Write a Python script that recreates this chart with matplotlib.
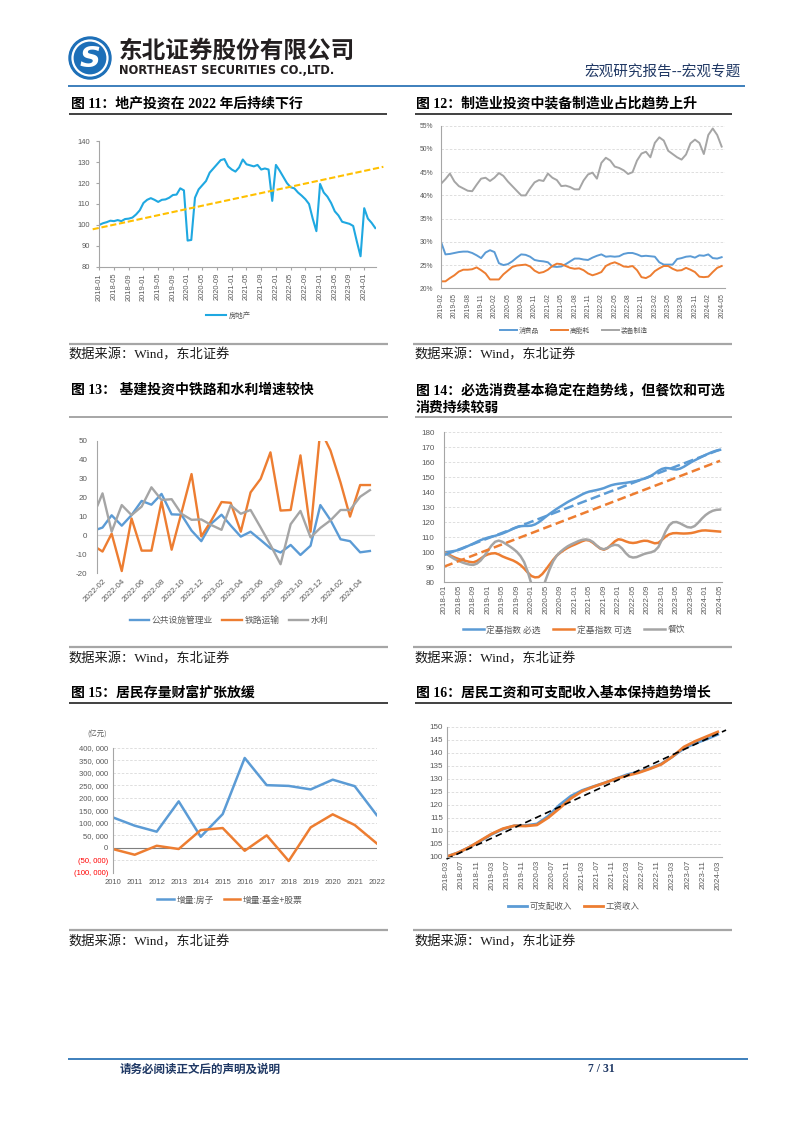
import matplotlib
matplotlib.use('Agg')
import matplotlib.pyplot as plt
import numpy as np
import pandas as pd
from matplotlib.patches import Circle
from matplotlib.ticker import FuncFormatter

W, H = 802, 1133
CJK = 'Noto Sans CJK SC'
plt.rcParams['font.family'] = ['Liberation Sans', CJK, 'DejaVu Sans']
plt.rcParams['axes.unicode_minus'] = False

BLUE = '#5b9bd5'; ORANGE = '#ed7d31'; GRAY = '#a5a5a5'
TICK = '#595959'; SPINE = '#a6a6a6'; GRID = '#d9d9d9'

# ---------------- data ----------------
# Fig 11: real estate investment index, monthly 2018-01 .. 2024-04
re_months = pd.period_range('2018-01', '2024-04', freq='M').strftime('%Y-%m').tolist()
re_index = [100, 100.8, 101.3, 102, 101.8, 102.3, 101.8, 102.8, 103, 103.5, 105, 107,
            110.5, 112, 112.8, 112, 111, 112, 112.2, 113, 114.3, 114.5, 117.5, 116.5,
            92.5, 92.8, 113, 117, 119, 121, 125, 127, 129, 131, 131.5, 128,
            126.5, 125.5, 127.5, 131.3, 129, 128.5, 128, 128.7, 126.5, 127, 126.5, 111.5,
            128.7, 126, 123, 120, 118, 117.5, 115.5, 114, 112.3, 110, 103, 97,
            119.6, 115.5, 113.5, 110.5, 106.5, 104.5, 101.5, 101, 100.5, 99.5, 92, 85,
            108, 103, 101, 98.5]
re_trend_pos = [-1.8, 77.2]
re_trend_val = [97.9, 127.8]

# Fig 12: share of manufacturing investment, monthly 2019-02 .. 2024-05 (%)
mf_months = pd.period_range('2019-02', '2024-05', freq='M').strftime('%Y-%m').tolist()
mf_consumer = [30, 27.3, 27.4, 27.6, 27.8, 27.9, 27.9, 27.6, 27.1, 26.5, 27.7, 28.2,
               27.8, 25.4, 25, 25.2, 25.8, 26.6, 27.3, 27.2, 26.8, 26.1, 25.9, 25.8,
               25.6, 24.7, 24.6, 24.7, 25.2, 25.8, 26.4, 26.4, 26.2, 26.1, 26.6, 27,
               27.3, 26.8, 26.9, 26.8, 26.9, 27.4, 27.6, 27.6, 27.3, 26.9, 27, 26.9,
               26.8, 25.6, 25.1, 25.1, 25.1, 26.3, 26.5, 26.8, 26.9, 26.6, 27.1, 27,
               27.3, 26.5, 26.4, 26.7]
mf_energy = [21.5, 21.5, 22.2, 22.8, 23.6, 24, 24, 24.1, 24.5, 23.9, 23.2, 21.9,
             21.9, 21.9, 23, 23.8, 24.6, 24.9, 25, 25.1, 24.7, 23.8, 23.3, 23.5,
             24, 24.8, 25.3, 25.2, 24.8, 24.4, 24.2, 24.3, 23.9, 23.2, 22.8, 23.1,
             23.5, 24.8, 25.3, 25.6, 25.2, 24.7, 24.6, 24.8, 23.9, 22.4, 22.2, 22.7,
             23.7, 24.3, 24.8, 24.8, 24.2, 23.8, 23.9, 24.4, 24, 23.5, 22.5, 22.4,
             22.5, 23.5, 24.4, 24.8]
mf_equip = [42.5, 43.5, 44.7, 43, 42, 41.5, 41, 40.9, 42.3, 43.6, 43.8, 43.1,
            43.8, 44.8, 44.2, 43, 42, 41, 40, 40, 41.5, 42.8, 43.3, 43.1,
            44.7, 43.8, 43.3, 42, 42.1, 41.8, 41.3, 41.3, 43.2, 44.5, 44.9, 43.6,
            47, 48.1, 47.5, 46.2, 45.9, 45.4, 44.6, 45, 47.5, 49, 49.4, 48.2,
            51.3, 52.5, 51.8, 49.6, 48.9, 48.2, 47.7, 48.8, 51.2, 52, 51.3, 48.9,
            53, 54.4, 53, 50.5]

# Fig 13: infrastructure investment growth (%)
inf_dates = ['2022-01-17'] + pd.period_range('2022-02', '2024-05', freq='M').strftime('%Y-%m-01').tolist()
inf_public = [3.3, 4.2, 10.7, 5.2, 10.8, 18.3, 16.3, 22, 11.2, 11, 2.6, -3, 6.4, 11, 5.3,
              -0.6, 2, -2.4, -6.8, -9, -5, -10.3, -5.4, 16.1, 8.2, -2, -3, -8.9, -8.2]
inf_rail = [-6.8, -8.5, 1, -18.8, 9, -8, -8, 18, -7.5, 12, 32.5, -0.5, 8, 17.7, 17.3,
            2, 22.8, 30, 44, 13.2, 13.5, 42.4, 2, 56, 45, 28, 10, 26.7, 26.7]
inf_water = [16, 22.3, 2, 16.1, 10.8, 15.3, 25.5, 18.8, 19.2, 11.5, 8.3, 8.5, 5.5, 3, 16,
             11.5, 13.5, 4.2, -5, -15.2, 6, 13, -1, 4, 8, 13.5, 13.5, 20.5, 24]

# Fig 14: consumption fixed-base index, monthly 2018-01 .. 2024-05
cs_months = pd.period_range('2018-01', '2024-05', freq='M').strftime('%Y-%m').tolist()
cs_ess = [100, 100.3, 100.6, 101, 101.6, 102.5, 103.6, 104.7, 105.8, 107, 108.1, 109,
          109.8, 110.4, 111, 111.7, 112.5, 113.5, 114.6, 115.8, 116.8, 117.4, 117.6, 117.6,
          117.8, 118.6, 120, 121.8, 123.8, 125.6, 127.3, 129, 130.5, 132, 133.5, 134.8,
          136, 137.3, 138.6, 139.7, 140.5, 141, 141.5, 142.1, 142.8, 143.8, 144.7, 145.3,
          145.7, 146, 146.3, 146.7, 147.1, 147.6, 148.3, 149, 149.8, 151, 152.6, 154.3,
          155.6, 156.2, 156, 155.4, 155.2, 155.8, 157, 158.5, 160, 161.3, 162.5, 163.7,
          164.9, 166, 167, 167.8, 168.3]
cs_opt = [100, 98.8, 97.5, 96.4, 95.5, 94.8, 94.2, 93.6, 93.3, 94.2, 95.8, 97.5,
          98.6, 99.2, 99.4, 98.6, 97.3, 96.3, 95.4, 94.5, 93.2, 91.5, 89.2, 86.5,
          84.2, 83.3, 83.5, 85.5, 88.5, 91.8, 95, 97.8, 99.8, 101.5, 103, 104.2,
          105.2, 106.3, 107.4, 108.2, 107.8, 106.3, 104.3, 102.5, 101.7, 102.8, 105, 107.3,
          108.7, 108.3, 107.3, 106.5, 106.2, 106.5, 107.2, 107.7, 107.6, 106.8, 106, 106.3,
          108.3, 110.5, 112, 112.7, 112.8, 112.6, 112.5, 112.6, 112.8, 113.3, 114, 114.5,
          114.6, 114.4, 114.2, 114, 113.8]
cs_cater = [100, 98.3, 96.7, 95.3, 94.2, 93.2, 92.4, 91.8, 91.6, 92.5, 94.5, 97.5,
            101, 104.5, 107, 107.8, 107, 105.5, 104, 102.3, 100.3, 97.5, 93.5, 87,
            79, 72, 70, 75, 82, 88.5, 94, 97.8, 100.3, 102.3, 104, 105.3,
            106.4, 107.5, 108.3, 108.6, 108.2, 106.8, 104.5, 102.7, 102, 103, 104.3, 105,
            104.6, 102.5, 99.5, 97.2, 96.5, 96.8, 97.8, 98.8, 99.5, 100, 101, 103.5,
            108.5, 114, 118, 120, 120.2, 119.3, 118, 116.8, 116.5, 117.5, 119.8, 122.5,
            124.8, 126.5, 127.7, 128.3, 128.5]
cs_ess_trend = [98.2, 168.5]
cs_opt_trend = [90.5, 161]

# Fig 15: household wealth increments (100 million yuan)
wl_years = list(range(2010, 2023))
wl_house = [122000, 88500, 64500, 186000, 44000, 135000, 360000, 251000, 248000, 234000, 273000, 247000, 131000]
wl_fund = [-5000, -28000, 8000, -5000, 71000, 79000, -12000, 49700, -53000, 81800, 134000, 91200, 17600]
wl_ticks = [400000, 350000, 300000, 250000, 200000, 150000, 100000, 50000, 0, -50000, -100000]

# Fig 16: disposable income and wage index, quarterly 2018-03 .. 2024-03
in_months = pd.period_range('2018-03', '2024-03', freq='M').strftime('%Y-%m').tolist()
in_disp = [100, 101.5, 103.6, 106, 108.6, 110.6, 111.9, 112, 112.6, 115.6, 119.9, 123.3,
           125.5, 127, 128.4, 130, 131.6, 132.6, 134, 135.7, 138.5, 141.6, 143.6, 145.2, 147]
in_wage = [100, 101.5, 103.6, 106.2, 108.8, 110.8, 111.9, 111.8, 112.2, 115, 118.6, 122.4,
           125.2, 126.9, 128.4, 130, 131.2, 132.3, 133.8, 135.5, 138.5, 142.2, 144.4, 146.2, 148]
in_trend_pos = [0, 74.2]
in_trend_val = [99.1, 148.7]

# ---------------- figure ----------------
fig = plt.figure(figsize=(W / 100, H / 100), dpi=100)
bg = fig.add_axes([0, 0, 1, 1])
bg.set_xlim(0, W); bg.set_ylim(H, 0); bg.axis('off')


def rect(l, t, r, b):
    return [l / W, 1 - b / H, (r - l) / W, (b - t) / H]


def hline(x0, x1, y, color, lw):
    bg.plot([x0, x1], [y, y], color=color, lw=lw, solid_capstyle='butt')


TFONT = ['Liberation Serif', CJK]


def title(x, y, s):
    bg.text(x, y, s, fontsize=10, fontweight='bold', family=TFONT, va='center', ha='left', color='#000000')


def source(x, y):
    bg.text(x, y, '数据来源：Wind，东北证券', fontsize=9.5, family=TFONT, va='center', ha='left', color='#1a1a1a')


def style(ax, fs=5.5, ypad=5, xpad=2):
    for s in ['top', 'right']:
        ax.spines[s].set_visible(False)
    for s in ['left', 'bottom']:
        ax.spines[s].set_color(SPINE)
        ax.spines[s].set_linewidth(0.8)
    ax.tick_params(axis='both', labelsize=fs, colors=TICK, length=0)
    ax.tick_params(axis='y', pad=ypad)
    ax.tick_params(axis='x', pad=xpad)
    for lbl in ax.get_xticklabels() + ax.get_yticklabels():
        lbl.set_family('Liberation Sans')


def legend(ax, cx, cy, fs, hl, cs):
    leg = ax.legend(loc='center', bbox_to_anchor=(cx / W, 1 - cy / H), bbox_transform=fig.transFigure,
                    ncol=len(ax.get_lines()), frameon=False, handlelength=hl, handletextpad=0.3,
                    columnspacing=cs, borderpad=0, borderaxespad=0, prop={'family': [CJK], 'size': fs})
    for t in leg.get_texts():
        t.set_color(TICK)
    return leg


# header
bg.add_patch(Circle((90, 58), 21, color='#1d6fb8'))
bg.add_patch(Circle((90, 58), 17.5, fill=False, ec='white', lw=1.6))
bg.text(90, 59, 'S', color='white', fontsize=21, fontweight='bold', style='italic',
        family='DejaVu Sans', ha='center', va='center')
bg.text(119, 51, '东北证券股份有限公司', fontsize=17, fontweight='bold', family=[CJK], color='#231f20',
        ha='left', va='center')
bg.text(119, 71, 'NORTHEAST SECURITIES CO.,LTD.', fontsize=8.3, fontweight='bold', family='DejaVu Sans',
        color='#231f20', ha='left', va='center')
bg.text(741, 73, '宏观研究报告--宏观专题', fontsize=10.5, family=[CJK], color='#203864', ha='right', va='center')
hline(68, 745, 86, '#2e75b6', 1.3)

# footer
hline(68, 748, 1059, '#2e75b6', 1.3)
bg.text(120, 1069, '请务必阅读正文后的声明及说明', fontsize=8.3, fontweight='bold', family=[CJK], color='#1f3864',
        ha='left', va='center')
bg.text(601, 1069, '7 / 31', fontsize=8.5, fontweight='bold', family='Liberation Serif', color='#1f3864',
        ha='center', va='center')

# titles & frame lines
title(71, 104, '图 11：地产投资在 2022 年后持续下行')
hline(69, 387, 114, '#404040', 1.4)
title(416, 104, '图 12：制造业投资中装备制造业占比趋势上升')
hline(415, 732, 114, '#404040', 1.4)
title(71, 390, '图 13： 基建投资中铁路和水利增速较快')
hline(69, 388, 416.5, '#a6a6a6', 1.4)
title(416, 390, '图 14：必选消费基本稳定在趋势线，但餐饮和可选')
title(416, 408.5, '消费持续较弱')
hline(415, 732, 416.5, '#a6a6a6', 1.4)
title(71, 693, '图 15：居民存量财富扩张放缓')
hline(69, 388, 702.5, '#404040', 1.4)
title(416, 693, '图 16：居民工资和可支配收入基本保持趋势增长')
hline(415, 732, 702.5, '#404040', 1.4)

for yy in (343.5, 647, 930):
    hline(69, 388, yy, '#a6a6a6', 1.6)
    hline(413, 732, yy, '#a6a6a6', 1.6)
for yy in (354.5, 659, 942):
    source(68, yy)
    source(414, yy)

# ---- Fig 11 ----
ax = fig.add_axes(rect(99.3, 141.3, 376, 266.7))
x11 = np.arange(len(re_index))
ax.plot(x11, re_index, color='#1fa8e1', lw=1.5, label='房地产')
ax.plot(re_trend_pos, re_trend_val, color='#ffc000', lw=1.5, ls=(0, (3, 1.3)), clip_on=False)
ax.set_xlim(0, 75.2); ax.set_ylim(80, 140)
ax.set_yticks(range(80, 141, 10))
ax.set_xticks(x11[::4]); ax.set_xticklabels(re_months[::4], rotation=90)
style(ax, fs=5.4, ypad=7, xpad=2.5)
ax.tick_params(axis='both', length=2, color=SPINE)
ax.tick_params(axis='y', pad=5)
h = ax.get_lines()[0]
leg = ax.legend([h], ['房地产'], loc='center', bbox_to_anchor=(228 / W, 1 - 315.8 / H), bbox_transform=fig.transFigure,
                frameon=False, handlelength=2.8, handletextpad=0.3, borderpad=0, borderaxespad=0,
                prop={'family': [CJK], 'size': 5.3})
for t in leg.get_texts():
    t.set_color(TICK)

# ---- Fig 12 ----
ax = fig.add_axes(rect(441, 125.7, 725, 288.3))
x12 = np.arange(len(mf_equip))
ax.plot(x12, mf_consumer, color=BLUE, lw=1.4, label='消费品')
ax.plot(x12, mf_energy, color=ORANGE, lw=1.4, label='高能耗')
ax.plot(x12, mf_equip, color=GRAY, lw=1.4, label='装备制造')
ax.set_xlim(0, 63.75); ax.set_ylim(20, 55)
ax.set_yticks(range(20, 56, 5))
ax.yaxis.set_major_formatter(FuncFormatter(lambda v, p: f'{v:.0f}%'))
ax.grid(axis='y', color=GRID, ls=(0, (3, 2)), lw=0.6)
ax.set_axisbelow(True)
ax.set_xticks(x12[::3]); ax.set_xticklabels(mf_months[::3], rotation=90)
style(ax, fs=4.9, ypad=5.5, xpad=3.5)
legend(ax, 574, 330.5, 4.9, 2.4, 1.8)

# ---- Fig 13 ----
ax = fig.add_axes(rect(97.3, 441, 374.8, 573.3))
d13 = pd.to_datetime(inf_dates)
ax.plot(d13, inf_public, color=BLUE, lw=1.7, label='公共设施管理业')
ax.plot(d13, inf_rail, color=ORANGE, lw=1.7, label='铁路运输')
ax.plot(d13, inf_water, color=GRAY, lw=1.7, label='水利')
ax.axhline(0, color=GRID, lw=0.9, zorder=0)
ax.set_xlim(pd.Timestamp('2022-01-16'), pd.Timestamp('2024-05-16'))
ax.set_ylim(-20, 50)
ax.set_yticks(range(-20, 51, 10))
t13 = pd.date_range('2022-02-01', '2024-04-01', freq='2MS')
ax.set_xticks(t13)
ax.set_xticklabels(t13.strftime('%Y-%m'), rotation=45, ha='right', rotation_mode='anchor')
style(ax, fs=5.8, ypad=7, xpad=3)
ax.spines['bottom'].set_visible(False)
legend(ax, 229, 620.7, 6.3, 2.2, 1.1)

# ---- Fig 14 ----
ax = fig.add_axes(rect(444.3, 432.3, 721.5, 582.3))
x14 = np.arange(len(cs_ess))
ax.plot(x14, cs_ess, color=BLUE, lw=1.8, label='定基指数 必选')
ax.plot(x14, cs_opt, color=ORANGE, lw=1.8, label='定基指数 可选')
ax.plot(x14, cs_cater, color=GRAY, lw=1.8, label='餐饮')
ax.plot([x14[0], x14[-1]], cs_ess_trend, color=BLUE, lw=1.8, ls=(0, (4, 1.7)))
ax.plot([x14[0], x14[-1]], cs_opt_trend, color=ORANGE, lw=1.8, ls=(0, (3.5, 1.8)))
ax.set_xlim(0, 76.4); ax.set_ylim(80, 180)
ax.set_yticks(range(80, 181, 10))
ax.grid(axis='y', color=GRID, ls=(0, (3, 2)), lw=0.6)
ax.set_axisbelow(True)
ax.set_xticks(x14[::4]); ax.set_xticklabels(cs_months[::4], rotation=90)
style(ax, fs=5.8, ypad=7, xpad=2)
h = ax.get_lines()[:3]
leg = ax.legend(h, [l.get_label() for l in h], loc='center', bbox_to_anchor=(574 / W, 1 - 630 / H),
                bbox_transform=fig.transFigure, ncol=3, frameon=False, handlelength=2.4, handletextpad=0.3,
                columnspacing=1.45, borderpad=0, borderaxespad=0, prop={'family': [CJK], 'size': 6.3})
for t in leg.get_texts():
    t.set_color(TICK)

# ---- Fig 15 ----
ax = fig.add_axes(rect(112.7, 748, 376.7, 872.7))
ax.plot(wl_years, wl_house, color=BLUE, lw=1.8, label='增量:房子')
ax.plot(wl_years, wl_fund, color=ORANGE, lw=1.8, label='增量:基金+股票')
ax.axhline(0, color='#7f7f7f', lw=0.8, zorder=1)
ax.set_xlim(2010, 2022); ax.set_ylim(-100000, 400000)
ax.set_yticks(wl_ticks)
ax.set_yticklabels([('0' if v == 0 else (f'{v:,}'.replace(',', ', ') if v > 0 else f'({-v:,})'.replace(',', ', ')))
                    for v in wl_ticks])
ax.grid(axis='y', color=GRID, ls=(0, (3, 2)), lw=0.6)
ax.set_axisbelow(True)
ax.set_xticks(wl_years)
style(ax, fs=5.5, ypad=3.5, xpad=4.5)
ax.spines['bottom'].set_visible(False)
for lbl, v in zip(ax.get_yticklabels(), wl_ticks):
    if v < 0:
        lbl.set_color('#ff0000')
bg.text(97, 734, '(亿元)', fontsize=5.3, family=[CJK], color=TICK, ha='center', va='center')
legend(ax, 230, 900, 6.3, 1.9, 1.15)

# ---- Fig 16 ----
ax = fig.add_axes(rect(446.5, 726.7, 721.5, 856.7))
x16 = np.arange(0, len(in_months), 3)
ax.plot(x16, in_disp, color=BLUE, lw=2.0, label='可支配收入')
ax.plot(x16, in_wage, color=ORANGE, lw=2.0, label='工资收入')
ax.plot(in_trend_pos, in_trend_val, color='#000000', lw=1.2, ls=(0, (4, 2.5)), clip_on=False)
ax.set_xlim(0, 73); ax.set_ylim(100, 150)
ax.set_yticks(range(100, 151, 5))
ax.grid(axis='y', color=GRID, ls=(0, (3, 2)), lw=0.6)
ax.set_axisbelow(True)
ax.set_xticks(np.arange(0, len(in_months), 4))
ax.set_xticklabels(in_months[::4], rotation=90)
style(ax, fs=5.8, ypad=2.5, xpad=2.5)
h = ax.get_lines()[:2]
leg = ax.legend(h, [l.get_label() for l in h], loc='center', bbox_to_anchor=(574 / W, 1 - 906.7 / H),
                bbox_transform=fig.transFigure, ncol=2, frameon=False, handlelength=2.25, handletextpad=0.3,
                columnspacing=1.35, borderpad=0, borderaxespad=0, prop={'family': [CJK], 'size': 6.1})
for t in leg.get_texts():
    t.set_color(TICK)

fig.savefig('out.png', dpi=100)
